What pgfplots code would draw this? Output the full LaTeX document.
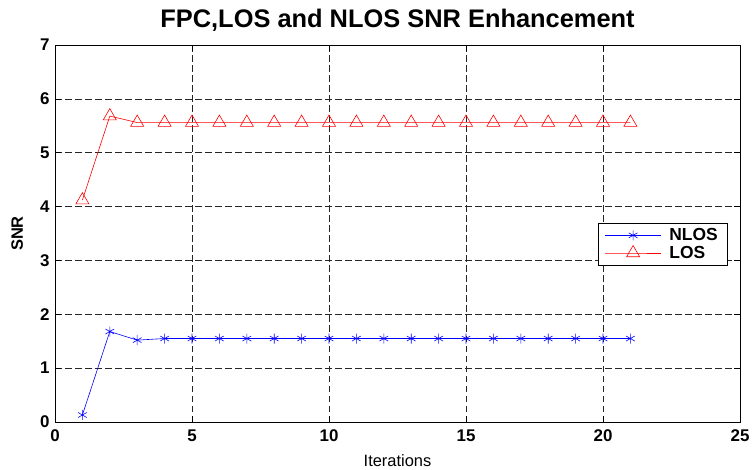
\documentclass[border=0pt]{standalone}
\usepackage{pgfplots}
\pgfplotsset{compat=1.18}
\usepackage{fontspec}
\setmainfont{Liberation Sans}
\begin{document}
\begin{tikzpicture}
\path[use as bounding box] (-55bp,-48bp) rectangle (699bp,422bp);
\begin{axis}[
  scale only axis,
  width=685bp, height=377bp,
  xmin=0, xmax=25, ymin=0, ymax=7,
  xtick={0,5,10,15,20,25},
  ytick={0,1,2,3,4,5,6,7},
  tick align=inside,
  tick style={black, line width=0.5pt},
  major tick length=6bp,
  axis line style={black, line width=0.6pt},
  grid=major,
  major grid style={black!85, dash pattern=on 6.5bp off 3.5bp, line width=0.5pt},
  /pgf/number format/assume math mode=true,
  ticklabel style={font=\fontsize{17}{19}\selectfont\bfseries},
  xticklabel style={yshift=-4bp},
  yticklabel style={xshift=-2bp},
  xlabel={Iterations},
  ylabel={\textbf{SNR}},
  xlabel style={font=\fontsize{16.5}{18}\selectfont, at={(axis description cs:0.5,0)}, anchor=base, yshift=-44bp},
  ylabel style={font=\fontsize{16.5}{18}\selectfont, at={(axis description cs:-0.055,0.5)}, anchor=center},
  title={\textbf{FPC,LOS and NLOS SNR Enhancement}},
  title style={font=\fontsize{25.5}{28}\selectfont, at={(axis description cs:0.5,1)}, anchor=base, yshift=12bp},
  legend style={at={(axis cs:24.53,3.70)}, anchor=north east, draw=black, line width=0.6pt, font=\fontsize{17.5}{20}\selectfont\bfseries, inner xsep=7bp, inner ysep=3.5bp, row sep=0bp},
  legend cell align=left,
  legend image code/.code={\draw[mark repeat=2,mark phase=2,#1] plot coordinates {(0bp,0bp) (28bp,0bp) (56bp,0bp)}; \path (62bp,0bp);},
]
\addplot[blue, mark=asterisk, mark size=5bp, mark options={line width=0.6pt}, line width=0.6pt] coordinates {
(1,0.13) (2,1.68) (3,1.52) (4,1.55) (5,1.55) (6,1.55) (7,1.55) (8,1.55) (9,1.55) (10,1.55)
(11,1.55) (12,1.55) (13,1.55) (14,1.55) (15,1.55) (16,1.55) (17,1.55) (18,1.55) (19,1.55) (20,1.55) (21,1.55)
};
\addlegendentry{NLOS}
\addplot[red, mark=triangle, mark size=7.5bp, mark options={line width=0.6pt}, line width=0.6pt] coordinates {
(1,4.12) (2,5.68) (3,5.56) (4,5.56) (5,5.56) (6,5.56) (7,5.56) (8,5.56) (9,5.56) (10,5.56)
(11,5.56) (12,5.56) (13,5.56) (14,5.56) (15,5.56) (16,5.56) (17,5.56) (18,5.56) (19,5.56) (20,5.56) (21,5.56)
};
\addlegendentry{LOS}
\end{axis}
\end{tikzpicture}
\end{document}
